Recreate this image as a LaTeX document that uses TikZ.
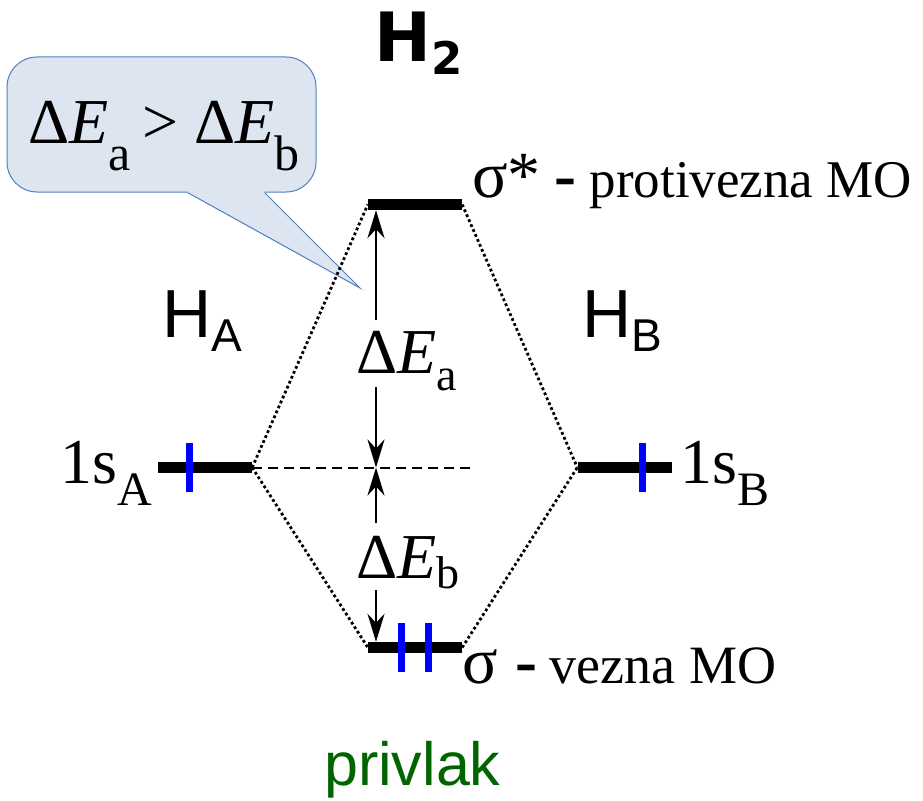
\documentclass[tikz,border=0pt]{standalone}
\usepackage{fontspec}
\setmainfont{Liberation Serif}
\setsansfont{Liberation Sans}
\newfontfamily\heavysans{DejaVu Sans}
\usepackage{graphicx}
\usetikzlibrary{arrows.meta,calc}
\definecolor{notefill}{HTML}{DDE6F0}
\definecolor{noteline}{HTML}{4F7EBD}
\definecolor{attract}{HTML}{006400}
\tikzset{
    level/.style={
        fill=black,
        inner sep=0pt,
        minimum width=94pt,
        minimum height=11pt
    },
    spin/.style={
        fill=blue,
        inner sep=0pt,
        minimum width=7pt,
        minimum height=49pt
    },
    corr/.style={line width=2.8pt, dash pattern=on 2.8pt off 2.6pt},
    ref/.style={line width=2pt, dash pattern=on 10pt off 6pt},
    gap/.style={-{Stealth[length=28pt,width=17pt,inset=9pt]}, line width=2.8pt},
    note/.style={
        draw=noteline,
        fill=notefill,
        line width=1pt,
        rounded corners=30pt,
        minimum width=309pt,
        minimum height=135pt
    },
    txt/.style={anchor=base west, inner sep=0pt}
}
\newcommand{\lowsub}[3]{\raisebox{-#1pt}{\fontsize{#2}{#2}\selectfont #3}}
\newcommand{\fs}[1]{\fontsize{#1}{#1}\selectfont}

\begin{document}
\begin{tikzpicture}[x=1pt,y=-1pt]
        \useasboundingbox (0,0) rectangle (923,800);

        % callout
        \node[note] (note) at (161.5,124.5) {};
        \coordinate (pl) at ($(note.south west)+(181,0)$);
        \coordinate (pr) at ($(note.south west)+(258,0)$);
        \coordinate (tip) at (360,288);
        \fill[notefill] ($(pl)+(0,-3)$) -- (pl) -- (tip) -- (pr) -- ($(pr)+(0,-3)$) -- cycle;
        \draw[noteline, line width=1pt] (pl) -- (tip) -- (pr);
        \node[txt] (ineq) at (28,143) {\fs{64}Δ\textit{E}\lowsub{27}{50}{a}\hspace{12pt}>\hspace{16pt}Δ\textit{E}\lowsub{27}{50}{b}};

        % energy levels
        \node[level] (sa) at (205,467.5) {};
        \node[level] (sb) at (624.5,467.5) {};
        \node[level] (ast) at (415,204.5) {};
        \node[level] (sig) at (415,647.5) {};

        % electrons
        \node[spin] (ea) at (189.5,467.5) {};
        \node[spin] (eb) at (642,467.5) {};
        \node[spin] (e1) at (401.5,647.5) {};
        \node[spin] (e2) at (428.5,647.5) {};

        % correlation lines
        \draw[corr] (sa.east) -- (ast.west);
        \draw[corr] (sa.east) -- (sig.west);
        \draw[corr] (ast.east) -- (sb.west);
        \draw[corr] (sig.east) -- (sb.west);
        \coordinate (mid) at (472,467.5);
        \draw[ref] (sa.east) -- (mid);

        % energy gaps
        \coordinate (axis) at (376,0);
        \coordinate (a1) at (376,320);
        \coordinate (a2) at (376,387);
        \coordinate (b1) at (376,523);
        \coordinate (b2) at (376,590);
        \draw[gap] (a1) -- (ast.south -| axis);
        \draw[gap] (a2) -- (mid -| axis);
        \draw[gap] (b1) -- (mid -| axis);
        \draw[gap] (b2) -- (sig.north -| axis);
        \node[txt] (dea) at (356,373) {\fs{64}Δ\textit{E}\lowsub{17}{46}{a}};
        \node[txt] (deb) at (356,578) {\fs{64}Δ\textit{E}\lowsub{10}{46}{b}};

        % labels
        \node[txt] (h2) at (374,62) {\heavysans\bfseries\fs{68}H\lowsub{13}{45}{2}};
        \node[txt] (ha) at (162,337) {\sffamily\fs{68}H\lowsub{14}{46}{A}};
        \node[txt] (hb) at (582,337) {\sffamily\fs{68}H\lowsub{14}{46}{B}};
        \node[txt] (la) at (60,483) {\fs{64}1s\lowsub{22}{48}{A}};
        \node[txt] (lb) at (680,483) {\fs{64}1s\lowsub{22}{48}{B}};
        \node[txt] (last) at (472,197) {\fs{66}σ*\hspace{14pt}{\bfseries -}\hspace{13pt}\fs{53}protivezna MO};
        \node[txt] (lsig) at (462,683) {\fs{66}σ\hspace{18pt}{\bfseries -}\hspace{12pt}\fs{54}vezna MO};
        \node[txt, text=attract] (pull) at (324,785) {\sffamily\fs{61}privlak};
    \end{tikzpicture}
\end{document}
